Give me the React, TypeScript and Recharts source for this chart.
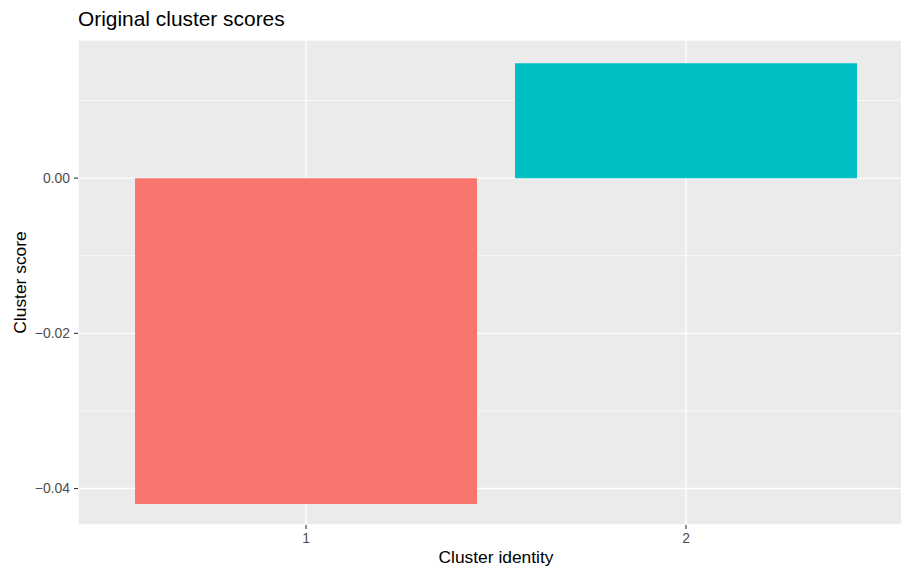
import { Bar, BarChart, CartesianGrid, Cell, XAxis, YAxis } from "recharts";

const clusters = ["1", "2"];
const scores = [-0.042, 0.0148];
const barColors = ["#F8766D", "#00BFC4"];
const yMajorTicks = [-0.04, -0.02, 0];
const yMinorTicks = [-0.03, -0.01, 0.01];
const yDomain: [number, number] = [-0.0447, 0.0178];

const data = clusters.map((cluster, i) => ({ cluster, score: scores[i] }));

const FONT = '"Liberation Sans", Arial, Helvetica, sans-serif';
const tickStyle = { fontSize: 13.9, fill: "#4D4D4D", fontFamily: FONT };
const tickLine = { stroke: "#333333", strokeWidth: 1.1 };

const formatScore = (v: number) => v.toFixed(2).replace("-", "\u2212");

export default function App() {
  return (
    <div
      style={{
        position: "absolute",
        left: 0,
        top: 0,
        width: 901,
        height: 567,
        overflow: "hidden",
        background: "#FFFFFF",
        fontFamily: FONT
      }}
    >
      <div
        style={{
          position: "absolute",
          left: 78,
          top: 9.3,
          fontSize: 20.9,
          lineHeight: 1,
          color: "#000000",
          whiteSpace: "nowrap"
        }}
      >
        Original cluster scores
      </div>
      <BarChart
        width={920}
        height={567}
        data={data}
        margin={{ top: 40, right: 6, bottom: 0, left: 0 }}
        barCategoryGap="5%"
      >
        <CartesianGrid fill="#EBEBEB" stroke="#FFFFFF" strokeWidth={1.4} />
        <CartesianGrid
          fill="none"
          stroke="#FFFFFF"
          strokeWidth={0.7}
          vertical={false}
          horizontalValues={yMinorTicks}
        />
        <XAxis
          dataKey="cluster"
          height={42}
          padding={{ left: 38, right: 38 }}
          axisLine={false}
          tickSize={4}
          tickMargin={4}
          tickLine={tickLine}
          tick={tickStyle}
          label={{
            value: "Cluster identity",
            position: "insideBottom",
            offset: 4,
            style: { fontSize: 17.4, fill: "#000000", fontFamily: FONT }
          }}
        />
        <YAxis
          width={78}
          type="number"
          domain={yDomain}
          ticks={yMajorTicks}
          allowDataOverflow
          axisLine={false}
          tickSize={4}
          tickMargin={4}
          tickLine={tickLine}
          tick={tickStyle}
          tickFormatter={formatScore}
          label={{
            value: "Cluster score",
            angle: -90,
            position: "insideLeft",
            offset: 20,
            style: { fontSize: 17.4, fill: "#000000", fontFamily: FONT, textAnchor: "middle" }
          }}
        />
        <Bar dataKey="score" isAnimationActive={false}>
          {data.map((d, i) => (
            <Cell key={d.cluster} fill={barColors[i]} />
          ))}
        </Bar>
      </BarChart>
    </div>
  );
}
